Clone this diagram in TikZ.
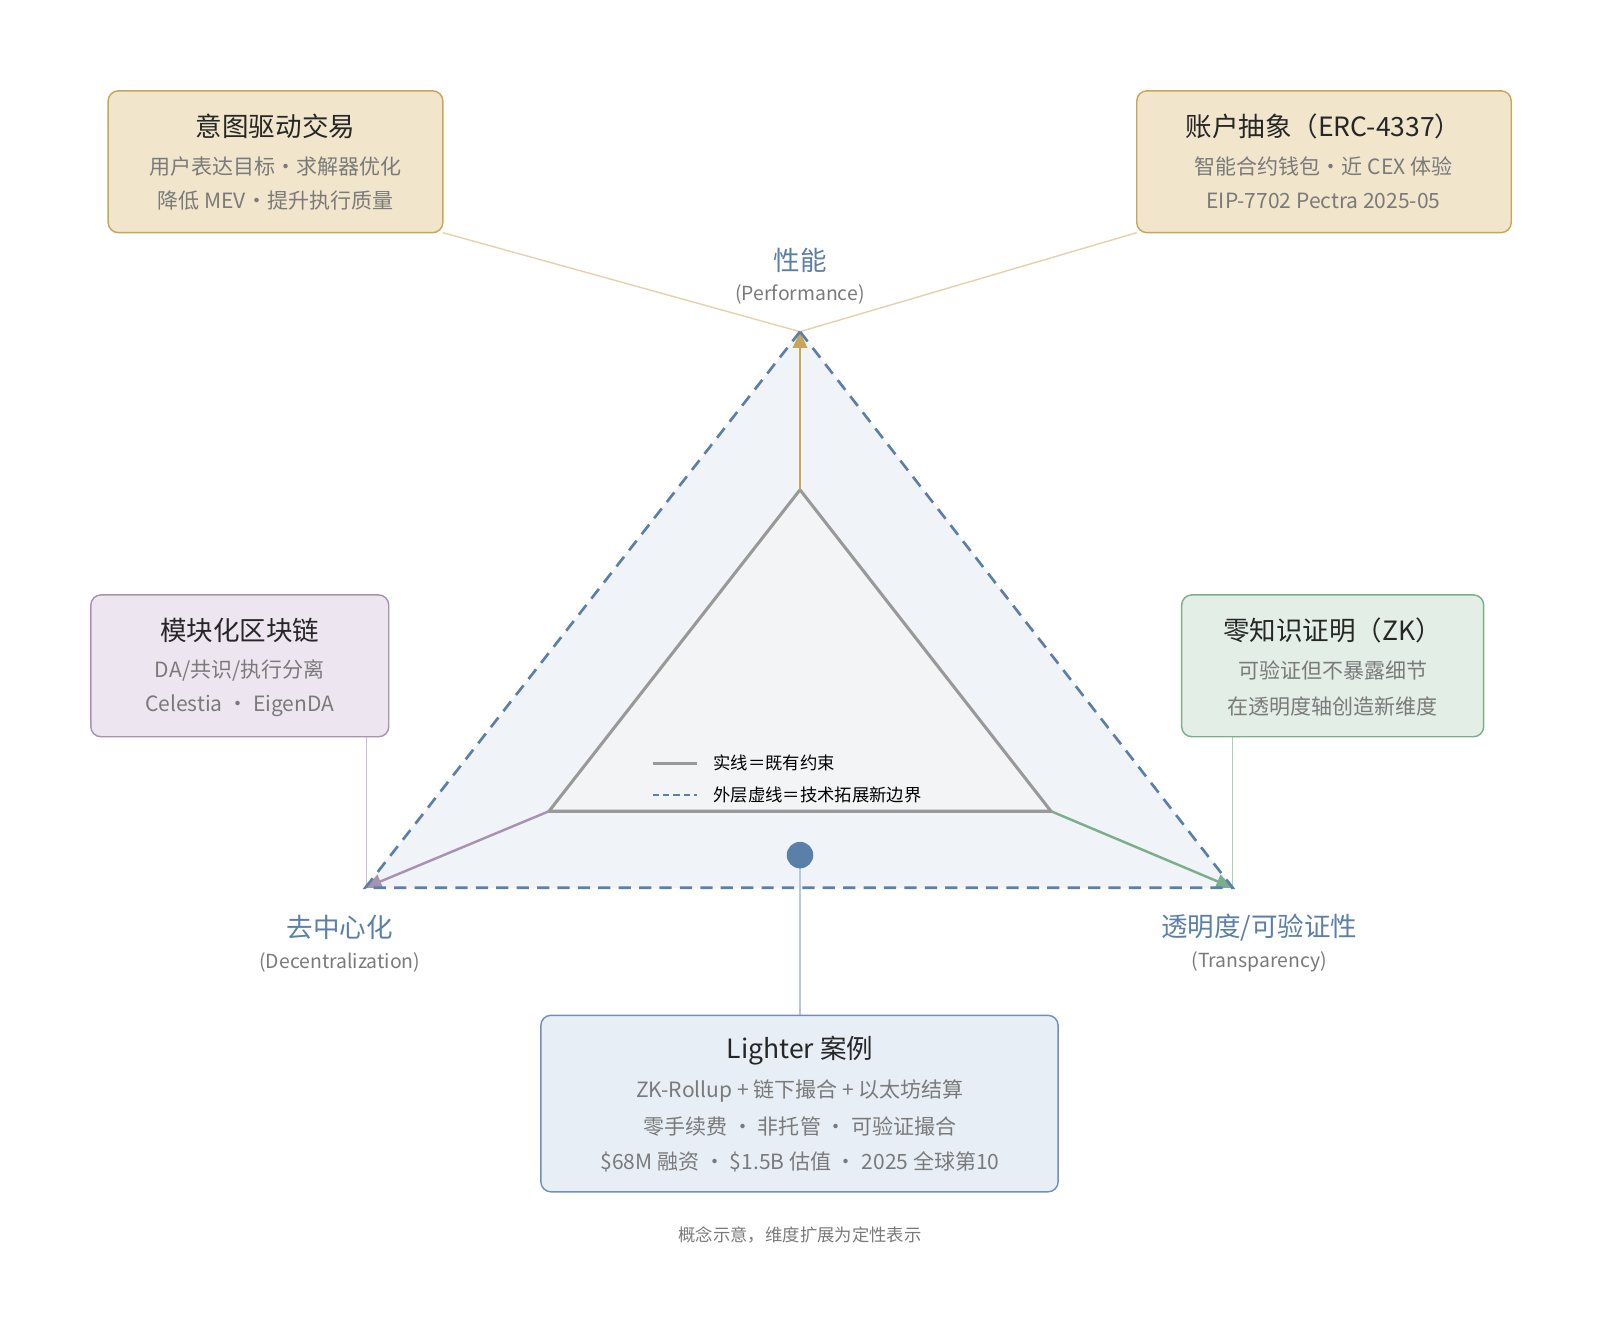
\documentclass[tikz,border=0pt]{standalone}
\usepackage{fontspec}
\setmainfont{Noto Sans CJK SC}
\usetikzlibrary{arrows.meta}
\definecolor{axisblue}{HTML}{5A7FA8}
\definecolor{txtgray}{HTML}{7A7A7A}
\definecolor{outerf}{HTML}{F0F3F8}
\definecolor{innerf}{HTML}{F3F4F6}
\definecolor{goldf}{HTML}{F1E5CC}\definecolor{golds}{HTML}{C9A55A}
\definecolor{purf}{HTML}{EDE6F1}\definecolor{purs}{HTML}{A892B2}
\definecolor{grnf}{HTML}{E2EEE6}\definecolor{grns}{HTML}{7DAE8C}
\definecolor{bluf}{HTML}{E8EEF6}\definecolor{blus}{HTML}{7090B6}
\tikzset{
 box/.style={draw,rounded corners=5pt,line width=0.7pt},
 ttl/.style={font=\fontsize{13}{15}\selectfont,text=black!85},
 sub/.style={font=\fontsize{10.3}{12}\selectfont,text=txtgray},
 ax/.style={font=\fontsize{13}{15}\selectfont,text=axisblue},
 axs/.style={font=\fontsize{9.5}{11}\selectfont,text=txtgray},
}
\begin{document}
\begin{tikzpicture}[x=0.5pt,y=-0.5pt]
\useasboundingbox (0,0) rectangle (1568,1306);
\coordinate (OT) at (784,325);\coordinate (OL) at (358,870);\coordinate (OR) at (1208,870);
\coordinate (IT) at (784,480);\coordinate (IL) at (538,795);\coordinate (IR) at (1030,795);
\fill[outerf] (OT)--(OL)--(OR)--cycle;
% connectors
\draw[golds!50,line width=0.7pt] (434,228) -- (OT) -- (1114,228);
\draw[purs!60,line width=0.7pt] (359,722) -- (359,870);
\draw[grns!60,line width=0.7pt] (1208,722) -- (1208,870);
\draw[blus!50,line width=0.7pt] (784,838) -- (784,995);
% inner
\draw[fill=innerf,draw=gray!80,line width=1.5pt] (IT)--(IL)--(IR)--cycle;
\draw[golds,line width=1.2pt,-{Triangle[length=8pt,width=7pt]}] (IT)--(OT);
\draw[purs,line width=1.2pt,-{Triangle[length=8pt,width=7pt]}] (IL)--(OL);
\draw[grns,line width=1.2pt,-{Triangle[length=8pt,width=7pt]}] (IR)--(OR);
\draw[axisblue,line width=1.3pt,dash pattern=on 6pt off 4pt] (OT)--(OL)--(OR)--cycle;
\fill[axisblue] (784,838) circle (13);
% legend
\draw[gray!80,line width=1.5pt] (640,748)--(683,748);
\node[anchor=west,font=\fontsize{8.5}{10}\selectfont] (l1) at (692,748) {实线＝既有约束};
\draw[axisblue,line width=1.2pt,dash pattern=on 3pt off 2pt] (640,779)--(683,779);
\node[anchor=west,font=\fontsize{8.5}{10}\selectfont] (l2) at (692,779) {外层虚线＝技术拓展新边界};
% axis labels
\node[ax] (p1) at (784,255) {性能};
\node[axs] (p2) at (784,289) {(Performance)};
\node[ax] (d1) at (333,909) {去中心化};
\node[axs] (d2) at (333,943) {(Decentralization)};
\node[ax] (t1) at (1234,909) {透明度/可验证性};
\node[axs] (t2) at (1234,943) {(Transparency)};
% boxes
\draw[box,fill=goldf,draw=golds] (106,89) rectangle (434,228);
\node[ttl] at (270,124) {意图驱动交易};
\node[sub] at (270,163) {用户表达目标・求解器优化};
\node[sub] at (270,197) {降低 MEV・提升执行质量};
\draw[box,fill=goldf,draw=golds] (1114,89) rectangle (1481,228);
\node[ttl] at (1297,124) {账户抽象（ERC-4337）};
\node[sub] at (1297,163) {智能合约钱包・近 CEX 体验};
\node[sub] at (1297,197) {EIP-7702 Pectra 2025-05};
\draw[box,fill=purf,draw=purs] (89,583) rectangle (381,722);
\node[ttl] at (235,618) {模块化区块链};
\node[sub] at (235,657) {DA/共识/执行分离};
\node[sub] at (235,692) {Celestia ・ EigenDA};
\draw[box,fill=grnf,draw=grns] (1158,583) rectangle (1454,722);
\node[ttl] at (1306,618) {零知识证明（ZK）};
\node[sub] at (1306,657) {可验证但不暴露细节};
\node[sub] at (1306,692) {在透明度轴创造新维度};
\draw[box,fill=bluf,draw=blus] (530,995) rectangle (1037,1168);
\node[ttl] at (784,1030) {Lighter 案例};
\node[sub] at (784,1069) {ZK-Rollup + 链下撮合 + 以太坊结算};
\node[sub] at (784,1104) {零手续费 ・ 非托管 ・ 可验证撮合};
\node[sub] at (784,1139) {\$68M 融资 ・ \$1.5B 估值 ・ 2025 全球第10};
\node[font=\fontsize{8.5}{10}\selectfont,text=txtgray] (ft) at (784,1210) {概念示意，维度扩展为定性表示};
\end{tikzpicture}
\end{document}
